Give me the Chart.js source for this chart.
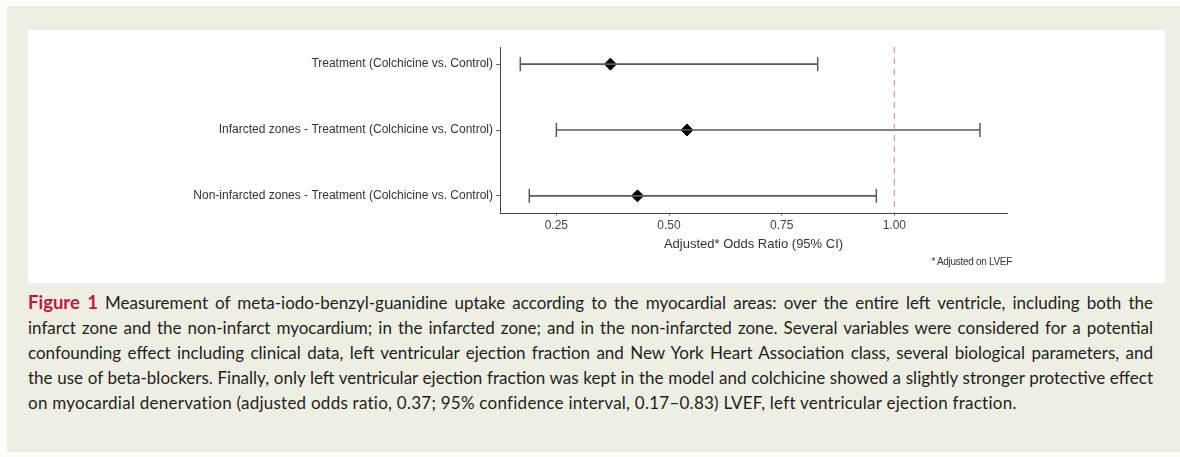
<!DOCTYPE html>
<html>
<head>
<meta charset="utf-8">
<script src="https://cdn.jsdelivr.net/npm/chart.js@4"></script>
<style>
  html, body { margin: 0; padding: 0; }
  body { width: 1180px; height: 457px; background: #fcfcf8; position: relative; overflow: hidden; }
  .panel { position: absolute; left: 7px; top: 6px; width: 1173px; height: 446px; background: #eeeee3; }
  .box { position: absolute; left: 28px; top: 30px; width: 1137px; height: 253px; background: #fff; }
  .note { position: absolute; right: 168px; top: 256px; font: 10px 'Liberation Sans', Arial, sans-serif; color: #333; letter-spacing: -0.3px; }
  .caption { position: absolute; left: 28px; top: 290px; width: 1125px; font: 17px Lato, 'Open Sans', sans-serif; color: #1e1e1e; line-height: 25px; }
  .caption div { text-align: justify; text-align-last: justify; white-space: nowrap; }
  .caption div.last { text-align-last: left; letter-spacing: 0.25px; }
  .caption b { color: #c2173f; font-size: 18.5px; }
</style>
</head>
<body>
<div class="panel"></div>
<div class="box"><canvas id="forest" width="1137" height="253"></canvas></div>
<div class="note">* Adjusted on LVEF</div>
<div class="caption">
  <div><b>Figure 1</b> Measurement of meta-iodo-benzyl-guanidine uptake according to the myocardial areas: over the entire left ventricle, including both the</div>
  <div>infarct zone and the non-infarct myocardium; in the infarcted zone; and in the non-infarcted zone. Several variables were considered for a potential</div>
  <div>confounding effect including clinical data, left ventricular ejection fraction and New York Heart Association class, several biological parameters, and</div>
  <div>the use of beta-blockers. Finally, only left ventricular ejection fraction was kept in the model and colchicine showed a slightly stronger protective effect</div>
  <div class="last">on myocardial denervation (adjusted odds ratio, 0.37; 95% confidence interval, 0.17–0.83) LVEF, left ventricular ejection fraction.</div>
</div>
<script>
// forest plot values
const labels = [
  'Treatment (Colchicine vs. Control)',
  'Infarcted zones - Treatment (Colchicine vs. Control)',
  'Non-infarcted zones - Treatment (Colchicine vs. Control)'
];
const oddsRatio = [0.37, 0.54, 0.43];
const lowerCI = [0.17, 0.25, 0.19];
const upperCI = [0.83, 1.19, 0.96];
const xTicks = [0.25, 0.50, 0.75, 1.00];
const refLine = 1.00;

const font = { family: "'Liberation Sans', Arial, sans-serif", size: 12 };

// one line per row, caps drawn as rotated 'line' points
const ciSets = labels.map((l, i) => ({
  type: 'line',
  data: [{ x: lowerCI[i], y: i }, { x: upperCI[i], y: i }],
  borderColor: '#5a5a5a',
  borderWidth: 1.6,
  pointStyle: 'line',
  rotation: 90,
  pointRadius: 7,
  pointBorderColor: '#5a5a5a',
  pointBorderWidth: 1.5
}));

new Chart(document.getElementById('forest'), {
  type: 'scatter',
  data: {
    datasets: [
      {
        type: 'line',
        data: [{ x: refLine, y: -0.26 }, { x: refLine, y: 2.26 }],
        borderColor: '#e4909a',
        borderWidth: 1.2,
        borderDash: [6, 5],
        pointRadius: 0
      },
      ...ciSets,
      {
        data: oddsRatio.map((v, i) => ({ x: v, y: i })),
        pointStyle: 'rectRot',
        pointRadius: 6,
        backgroundColor: '#000',
        borderColor: '#000'
      }
    ]
  },
  options: {
    responsive: false,
    animation: false,
    events: [],
    layout: { padding: { top: 17, right: 158, bottom: 31, left: 0 } },
    plugins: { legend: { display: false }, tooltip: { enabled: false } },
    scales: {
      x: {
        type: 'linear',
        min: 0.125,
        max: 1.25,
        afterBuildTicks: s => { s.ticks = xTicks.map(v => ({ value: v })); },
        ticks: { color: '#444', font: font, padding: 2, maxRotation: 0, callback: v => v.toFixed(2) },
        grid: { drawOnChartArea: false, drawTicks: true, tickLength: 3, color: '#888' },
        border: { color: '#444', width: 1 },
        title: { display: true, text: 'Adjusted* Odds Ratio (95% CI)', color: '#333', font: { family: font.family, size: 13 }, padding: { top: 2, bottom: 0 } }
      },
      y: {
        type: 'linear',
        reverse: true,
        min: -0.26,
        max: 2.26,
        afterBuildTicks: s => { s.ticks = labels.map((l, i) => ({ value: i })); },
        afterFit: s => { s.width = 472; },
        ticks: { color: '#333', font: font, padding: 3, callback: v => labels[v] },
        grid: { drawOnChartArea: false, drawTicks: true, tickLength: 4, color: '#666' },
        border: { color: '#444', width: 1 }
      }
    }
  }
});
</script>
</body>
</html>
